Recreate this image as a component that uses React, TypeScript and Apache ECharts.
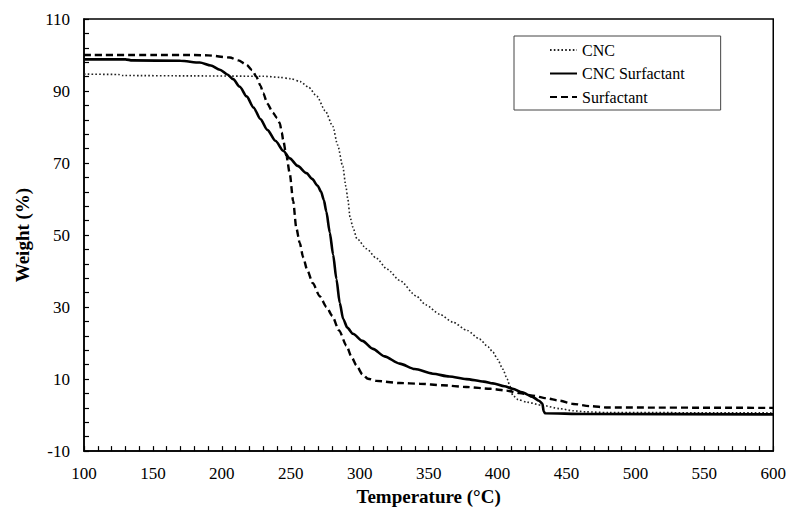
import React, { useEffect, useRef } from "react";
import * as echarts from "echarts";

const xTicks = { min: 100, max: 600, interval: 50 };
const yTicks = { min: -10, max: 110, interval: 20 };

const seriesNames = ["CNC", "CNC Surfactant", "Surfactant"];

const cncData: [number, number][] = [
  [100, 94.7], [125, 94.6], [128, 94.3], [180, 94.2], [230, 94.1], [242, 93.8],
  [250, 93.4], [257, 92.6], [263, 91], [269, 88.5], [275, 84.5], [280.5, 80.2],
  [284, 75], [287.7, 69.1], [290, 63.5], [291.4, 59.9], [293, 55], [295, 52.2],
  [298, 49], [305, 46.2], [312, 43.6], [320, 40.5], [329, 37.4], [341, 33.1],
  [348, 30.6], [358, 28], [367.6, 25.8], [378, 23.5], [387, 21.1], [393, 19],
  [396.6, 17.5], [400, 15.5], [403.8, 12.8], [407, 10], [409, 8], [411, 5.5],
  [415, 4.3], [421, 3.6], [432.6, 2.7], [445, 1.8], [455, 1.2], [464, 0.9],
  [480, 0.7], [600, 0.6],
];

const cncSurfData: [number, number][] = [
  [100, 98.8], [130, 98.8], [135, 98.5], [170, 98.4], [184, 97.9], [192, 97.1],
  [198.6, 95.9], [204, 94.6], [208.2, 93.3], [213, 91.2], [218, 88.5],
  [223, 85.4], [228, 82.2], [233, 79.2], [239, 76.1], [244.5, 73.4],
  [249.3, 71.3], [255, 69.2], [261.4, 67.2], [265.5, 65.6], [269.5, 63.7],
  [272, 62], [274, 59.7], [275.8, 56.5], [278.3, 50.7], [280.7, 44.6],
  [283.1, 37.8], [285.5, 31.2], [288, 26.7], [291, 24.3], [295.1, 22.6],
  [302, 20.6], [309.6, 18.4], [318, 16.3], [329, 14.3], [340, 12.8],
  [353, 11.5], [365, 10.7], [377.3, 10.0], [390, 9.3], [396.6, 8.8], [405, 8],
  [411, 7.3], [418, 6.3], [425.6, 5.0], [430, 4.0], [432.5, 3.2], [433.5, 1],
  [434.5, 0.5], [463, 0.3], [600, 0.2],
];

const surfData: [number, number][] = [
  [100, 100], [150, 100], [180, 100], [190, 99.9], [205.8, 99.3], [212, 98.5],
  [217.9, 97.3], [222, 95.8], [225, 94], [228, 91.5], [230, 89.4], [233, 86.5],
  [237.2, 83.9], [240, 82.5], [242, 81.1], [243.5, 78.5], [244.4, 76.5],
  [246.9, 71.9], [249.3, 67], [251.7, 59.5], [254, 52], [256.5, 47.8],
  [259, 43.8], [262, 40.2], [266, 36.6], [271, 33], [276, 30], [280, 27.6],
  [285, 23.5], [290.4, 19.3], [294, 16.2], [297.6, 13.8], [302, 11.3],
  [306, 10.1], [312, 9.5], [329, 8.9], [343.5, 8.7], [360, 8.3], [377.3, 7.8],
  [395, 7.3], [406.3, 6.8], [416, 6.1], [425.6, 5.4], [435, 4.7], [445, 4.0],
  [455, 3.1], [466.7, 2.5], [480, 2.1], [600, 2.0],
];

const FONT = "'Liberation Serif', 'DejaVu Serif', 'Times New Roman', serif";

export default function App() {
  const ref = useRef<HTMLDivElement>(null);
  useEffect(() => {
    if (!ref.current) return;
    const chart = echarts.init(ref.current, undefined, { renderer: "svg" });
    const lineCommon = {
      type: "line" as const,
      showSymbol: false,
      symbol: "none",
      smooth: 0.25,
      smoothMonotone: "x" as const,
    };
    chart.setOption({
      animation: false,
      backgroundColor: "#fff",
      textStyle: { fontFamily: FONT },
      grid: {
        left: 84,
        right: 15,
        top: 19,
        bottom: 58,
        show: true,
        borderColor: "#000",
        borderWidth: 1.5,
      },
      legend: {
        orient: "vertical",
        left: 514,
        top: 36,
        padding: [6, 36, 5, 35],
        itemWidth: 27,
        itemHeight: 12,
        itemGap: 7.5,
        borderColor: "#444",
        borderWidth: 1,
        backgroundColor: "#fff",
        itemStyle: { opacity: 0 },
        textStyle: { fontFamily: FONT, fontSize: 16, color: "#000" },
        data: seriesNames,
      },
      xAxis: {
        type: "value",
        min: xTicks.min,
        max: xTicks.max,
        interval: xTicks.interval,
        name: "Temperature (°C)",
        nameLocation: "middle",
        nameGap: 33,
        nameTextStyle: { fontFamily: FONT, fontSize: 19, fontWeight: "bold", color: "#000" },
        axisLine: { onZero: false, lineStyle: { color: "#000", width: 1.5 } },
        axisTick: { inside: true, length: 5, lineStyle: { color: "#000", width: 1.2 } },
        minorTick: { show: true, splitNumber: 5, length: 5, lineStyle: { color: "#000", width: 1.2 } },
        splitLine: { show: false },
        axisLabel: { fontFamily: FONT, fontSize: 17, color: "#000", margin: 14 },
      },
      yAxis: {
        type: "value",
        min: yTicks.min,
        max: yTicks.max,
        interval: yTicks.interval,
        name: "Weight (%)",
        nameLocation: "middle",
        nameGap: 52,
        nameTextStyle: { fontFamily: FONT, fontSize: 19, fontWeight: "bold", color: "#000" },
        axisLine: { show: true, onZero: false, lineStyle: { color: "#000", width: 1.5 } },
        axisTick: { show: true, inside: true, length: 5, lineStyle: { color: "#000", width: 1.2 } },
        minorTick: { show: true, splitNumber: 5, length: 5, lineStyle: { color: "#000", width: 1.2 } },
        splitLine: { show: false },
        axisLabel: { fontFamily: FONT, fontSize: 17, color: "#000", margin: 14 },
      },
      series: [
        {
          ...lineCommon,
          name: seriesNames[0],
          data: cncData,
          lineStyle: { color: "#222", width: 1.6, type: [1.6, 2.2] },
          itemStyle: { color: "#222" },
          z: 3,
        },
        {
          ...lineCommon,
          name: seriesNames[1],
          data: cncSurfData,
          lineStyle: { color: "#000", width: 2.6, type: "solid" },
          itemStyle: { color: "#000" },
          z: 4,
        },
        {
          ...lineCommon,
          name: seriesNames[2],
          data: surfData,
          lineStyle: { color: "#000", width: 2.4, type: [7, 4] },
          itemStyle: { color: "#000" },
          z: 5,
        },
      ],
    });
    return () => chart.dispose();
  }, []);
  return (
    <div
      ref={ref}
      style={{ position: "fixed", left: 0, top: 0, width: 789, height: 511, background: "#fff" }}
    />
  );
}
